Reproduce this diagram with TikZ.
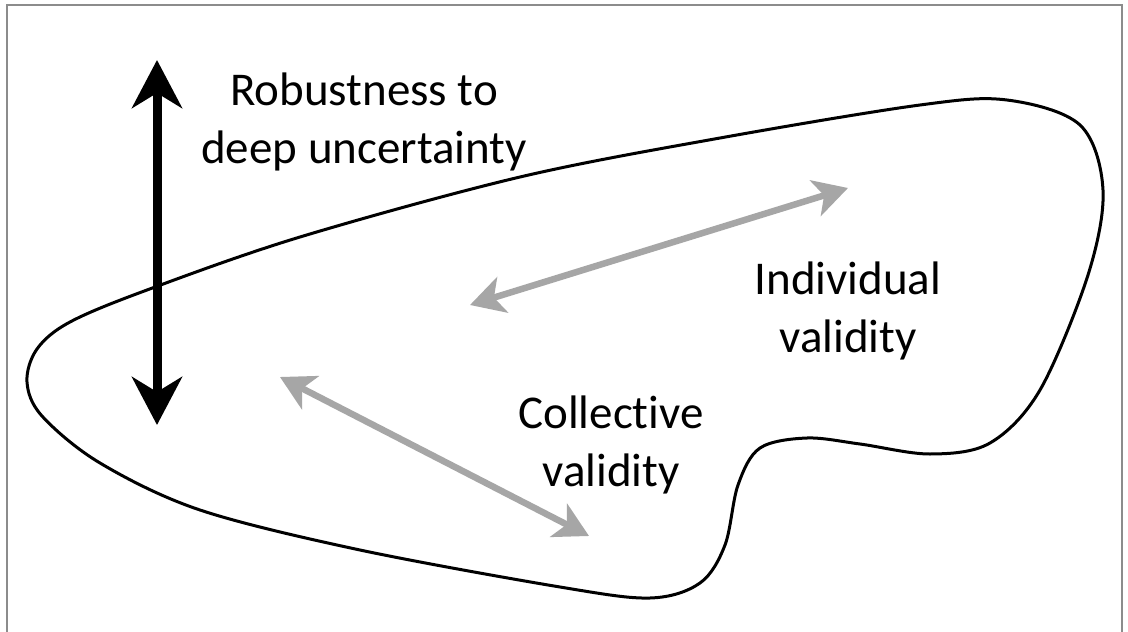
\documentclass[tikz,border=0pt]{standalone}
\usepackage{fontspec}
\setmainfont{Carlito}[Ligatures={NoCommon,NoRequired,NoContextual}]
\usetikzlibrary{arrows.meta}
\definecolor{arrowgray}{HTML}{A6A6A6}
\definecolor{framegray}{HTML}{8C8C8C}
\begin{document}
\begin{tikzpicture}[x=1pt,y=-1pt,
  frame/.style={draw=framegray, line width=1.5pt},
  outline/.style={draw=black, line width=3pt, line join=round},
  robust/.style={draw=black, line width=9pt, {Stealth[length=48pt,width=50pt,inset=15pt]}-{Stealth[length=48pt,width=50pt,inset=15pt]}},
  validity/.style={draw=arrowgray, line width=6.5pt, {Stealth[length=34pt,width=37pt,inset=9pt]}-{Stealth[length=34pt,width=37pt,inset=9pt]}},
  label/.style={font=\fontsize{47}{58}\selectfont, align=center, inner sep=0pt, text=black}
]
\useasboundingbox (0,0) rectangle (1128,632);
\fill[white] (0,0) rectangle (1128,632);

% outer frame
\draw[frame] (7,640) -- (7,5) -- (1122,5) -- (1122,640);

% the closed region
\draw[outline] plot[smooth cycle, tension=0.55] coordinates {
  (27,382) (37,349) (70,322) (147,290) (300,237) (520,177) (720,138) (920,105)
  (1007,100) (1080,125) (1103,190) (1088,275) (1040,390) (990,443)
  (930,454) (860,444) (807,438) (760,448) (738,485) (725,545) (700,583)
  (650,598) (560,587) (360,550) (200,510) (100,463) (42,416)};

% labels
\node[label] (robust) at (364,122) {Robustness to\\deep uncertainty};
\node[label] (indiv) at (848,311) {Individual\\validity};
\node[label] (coll) at (611,445) {Collective\\validity};

% arrow end points
\coordinate (rtop) at (157,60);
\coordinate (rbot) at (157,425);
\coordinate (ia) at (470,305);
\coordinate (ib) at (848,188);
\coordinate (ca) at (280,377);
\coordinate (cb) at (589,536);

\draw[validity] (ia) -- (ib);
\draw[validity] (ca) -- (cb);
\draw[robust] (rtop) -- (rbot);
\end{tikzpicture}
\end{document}
